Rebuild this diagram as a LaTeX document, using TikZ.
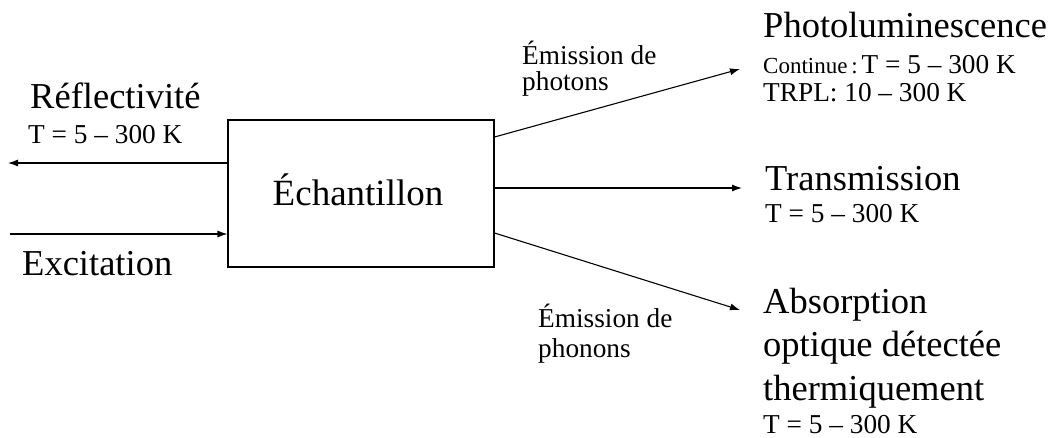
\documentclass[tikz,border=0pt]{standalone}
\usepackage{fontspec}
\setmainfont{Liberation Serif}
\usetikzlibrary{arrows.meta}
\begin{document}
\begin{tikzpicture}[x=1pt,y=-1pt,
  big/.style={font=\fontsize{36.5}{40}\selectfont, inner sep=0pt, anchor=base west},
  small/.style={font=\fontsize{27.3}{30}\selectfont, inner sep=0pt, anchor=base west},
  conn/.style={line width=1.1pt, -{Latex[length=10pt,width=7pt]}},
  lbox/.style={draw, line width=1.1pt, minimum width=266pt, minimum height=147pt, inner sep=0pt}]
\useasboundingbox (0,0) rectangle (1053,437);
\node[lbox] (B) at (361,193.5) {};
\node[font=\fontsize{37}{40}\selectfont, inner sep=0pt, anchor=base] (Bt) at (358,205) {Échantillon};
% left side
\node[big] (refl) at (30,108) {Réflectivité};
\node[small] (reflT) at (28,143) {T = 5 – 300 K};
\coordinate (reflEnd) at (8,163);
\draw[conn] (B.west |- 0,163) -- (reflEnd);
\node[big] (exc) at (22,275) {Excitation};
\coordinate (excStart) at (10,234);
\draw[conn] (excStart) -- (B.west |- 0,234);
% right targets
\coordinate (plTip) at (740,69);
\coordinate (trTip) at (742,188);
\coordinate (abTip) at (740,310);
\draw[conn] (B.east |- 0,137) -- (plTip);
\draw[conn] (B.east |- 0,188) -- (trTip);
\draw[conn] (B.east |- 0,233) -- (abTip);
\node[small, align=left, font=\fontsize{27.3}{25.5}\selectfont] (ph) at (522,90) {Émission de\\photons};
\node[small, align=left, font=\fontsize{27.3}{30}\selectfont] (pn) at (538,357) {Émission de\\phonons};
\node[big] (pl) at (763,37) {Photoluminescence};
\node[inner sep=0pt, anchor=base west] (cont) at (763,73) {\fontsize{23}{26}\selectfont Continue\,:\,\fontsize{27.3}{30}\selectfont T = 5 – 300 K};
\node[small] (trpl) at (763,101) {TRPL: 10 – 300 K};
\node[big] (tr) at (765,190) {Transmission};
\node[small] (trT) at (765,222) {T = 5 – 300 K};
\node[big] (ab1) at (763,313) {Absorption};
\node[big] (ab2) at (763,356) {optique détectée};
\node[big] (ab3) at (763,400) {thermiquement};
\node[small] (abT) at (763,433) {T = 5 – 300 K};
\end{tikzpicture}
\end{document}
